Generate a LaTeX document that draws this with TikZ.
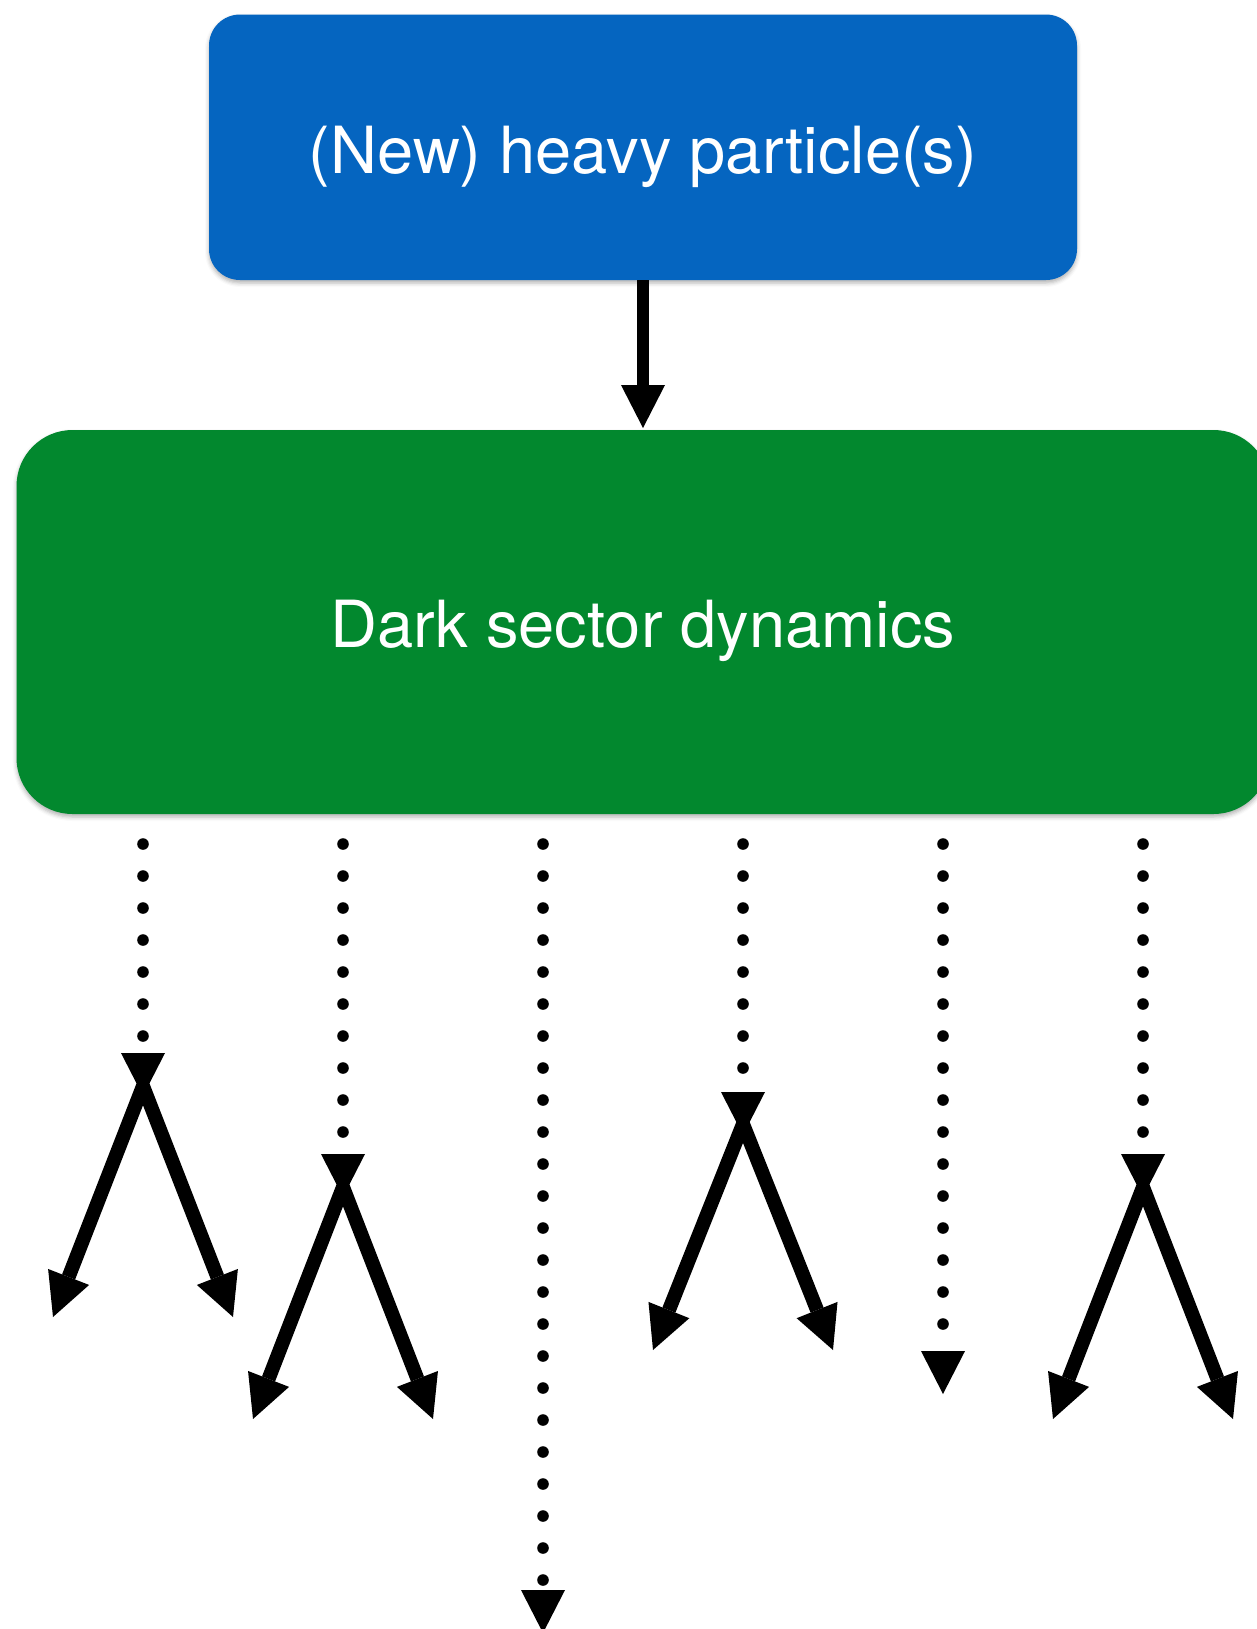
\documentclass[tikz,border=0pt]{standalone}
\usepackage{fontspec}
\setsansfont{TeX Gyre Heros}
\usetikzlibrary{arrows.meta,shadows.blur}
\definecolor{heavyblue}{RGB}{5,101,192}
\definecolor{sectorgreen}{RGB}{2,136,46}
\begin{document}
\begin{tikzpicture}[x=0.5pt,y=-0.5pt,
  headed/.style={-{Triangle[length=21.5pt,width=22pt,line width=0pt]}},
  partbox/.style={rounded corners=#1,text=white,outer sep=0pt,inner sep=0pt,
    font=\sffamily\fontsize{32.5}{39}\selectfont,
    blur shadow={shadow xshift=0pt,shadow yshift=-1.5pt,shadow blur radius=2pt,shadow opacity=30}},
  decay/.style={line width=6pt,headed},
  branch/.style={decay,line width=7pt},
  dotline/.style={decay,line width=5.8pt,line cap=round,dash pattern=on 0pt off 16pt}]
\useasboundingbox (0,0) rectangle (1257,1629);
\clip (0,0) rectangle (1257,1629);

% boxes
\node[partbox=15.5pt,fill=heavyblue,minimum width=434pt,minimum height=132.75pt,
  text height=26pt,text depth=0pt] (heavy) at (643,147.25) {(New) heavy particle(s)};
\node[partbox=28pt,fill=sectorgreen,minimum width=626.5pt,minimum height=192pt,
  text height=25pt,text depth=0pt] (dark) at (643,622) {Dark sector dynamics};
\draw[decay,shorten >=1pt] (heavy.south) -- (dark.north);

% dotted lines out of the dark sector
\foreach \x/\ty [count=\i] in {143/1096,343/1197,543/1633,743/1135,943/1394,1143/1197}{
  \coordinate (s\i) at (\x,844);
  \coordinate (t\i) at (\x,\ty);
  \draw[dotline] (s\i) -- (t\i);
}

% two-body decays
\foreach \x/\ay/\by [count=\i] in {143/1086/1317,343/1187/1419,743/1124/1350,1143/1187/1419}{
  \coordinate (v\i) at (\x,\ay);
  \coordinate (l\i) at (\x-90,\by);
  \coordinate (r\i) at (\x+90,\by);
  \draw[branch] (v\i) -- (l\i);
  \draw[branch] (v\i) -- (r\i);
}
\end{tikzpicture}
\end{document}
